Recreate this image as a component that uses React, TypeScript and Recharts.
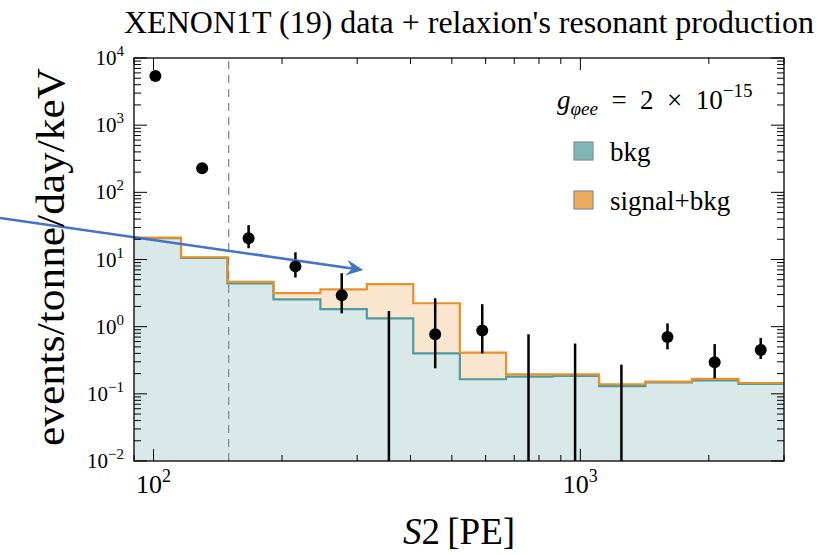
import {
  ComposedChart,
  Area,
  Line,
  Scatter,
  ErrorBar,
  XAxis,
  YAxis,
  ReferenceLine,
} from "recharts";

// histogram bins in S2 [PE] (log-spaced edges)
const BIN_EDGES = [90, 116, 149, 191, 246, 316, 406, 522, 670, 861, 1106, 1421, 1826, 2346, 3000];
const BKG = [20.8, 10.6, 4.4, 2.55, 1.82, 1.33, 0.4, 0.165, 0.18, 0.185, 0.13, 0.148, 0.158, 0.141];
const SIG_BKG = [21.2, 10.8, 4.65, 3.15, 3.6, 4.3, 2.23, 0.41, 0.195, 0.195, 0.139, 0.152, 0.167, 0.145];

// measured data points
const POINT_X = [101, 130, 167, 215, 276, 457, 589, 1600, 2064, 2646];
const POINT_Y = [5400, 229, 20.8, 7.9, 2.94, 0.77, 0.88, 0.7, 0.295, 0.45];
const POINT_LO = [5250, 205, 14.7, 5.4, 1.58, 0.24, 0.4, 0.46, 0.17, 0.33];
const POINT_HI = [5550, 255, 32.5, 12.8, 6.25, 2.65, 2.16, 1.12, 0.55, 0.68];

// bins with no central value, only an upper error bar
const EMPTY_X = [356, 756, 972, 1248];
const EMPTY_HI = [1.71, 0.77, 0.56, 0.272];

const THRESHOLD = 150;
const ARROW_FROM = { x: 43.5, y: 41.5 };
const ARROW_TO = { x: 310, y: 6.98 };

const X_MAJOR = [100, 1000];
const X_MINOR = [90, 200, 300, 400, 500, 600, 700, 800, 900, 2000, 3000];
const Y_MAJOR = [0.01, 0.1, 1, 10, 100, 1000, 10000];
const MANTISSA = [2, 3, 4, 5, 6, 7, 8, 9];
const Y_MINOR = Y_MAJOR.slice(0, -1).flatMap((d) =>
  MANTISSA.map((m) => Number((m * d).toPrecision(2)))
);

const W = 832;
const H = 555;
const PLOT = { left: 134, right: 784, top: 58, bottom: 461 };
const FONT = "Liberation Serif, Times New Roman, serif";

const TEAL = "#7fb6b8";
const TEAL_LINE = "#4f9a9c";
const ORANGE = "#eeac5f";
const ORANGE_LINE = "#e8912b";
const ARROW_BLUE = "#4472c4";

const histRows = BIN_EDGES.map((x, i) => ({
  x,
  bkg: BKG[Math.min(i, BKG.length - 1)],
  sig: SIG_BKG[Math.min(i, SIG_BKG.length - 1)],
}));

const points = POINT_X.map((x, i) => ({
  x,
  y: POINT_Y[i],
  err: [POINT_Y[i] - POINT_LO[i], POINT_HI[i] - POINT_Y[i]],
}));

const emptyBins = EMPTY_X.map((x, i) => ({
  x,
  y: EMPTY_HI[i],
  err: [EMPTY_HI[i] - 0.01, 0],
}));

const exponent = (v: number) => String(Math.round(Math.log10(v))).replace("-", "\u2212");

function XTick(props: any) {
  const { x, y, payload } = props;
  const major = X_MAJOR.includes(payload.value);
  const len = major ? 12 : 6;
  return (
    <g>
      <line x1={x} y1={y} x2={x} y2={y - len} stroke="#000" strokeWidth={1} />
      <line x1={x} y1={PLOT.top} x2={x} y2={PLOT.top + len} stroke="#000" strokeWidth={1} />
      {major && (
        <text x={x} y={y + 32} textAnchor="middle" style={{ fontFamily: FONT }} fontSize={26} fill="#000">
          10
          <tspan dy={-11} fontSize={18}>
            {exponent(payload.value)}
          </tspan>
        </text>
      )}
    </g>
  );
}

function YTick(props: any) {
  const { x, y, payload } = props;
  const major = Y_MAJOR.includes(payload.value);
  const len = major ? 13 : 7;
  return (
    <g>
      <line x1={x} y1={y} x2={x + len} y2={y} stroke="#000" strokeWidth={1} />
      <line x1={PLOT.right} y1={y} x2={PLOT.right - len} y2={y} stroke="#000" strokeWidth={1} />
      {major && (
        <text x={x - 10} y={y + 7} textAnchor="end" style={{ fontFamily: FONT }} fontSize={21} fill="#000">
          10
          <tspan dy={-9} fontSize={15}>
            {exponent(payload.value)}
          </tspan>
        </text>
      )}
    </g>
  );
}

function Arrow(props: any) {
  const { x1, y1, x2, y2 } = props;
  const ang = Math.atan2(y2 - y1, x2 - x1);
  const c = Math.cos(ang);
  const s = Math.sin(ang);
  const L = 17;
  const Wd = 8;
  const bx = x2 - L * c;
  const by = y2 - L * s;
  const nx = x2 - L * 0.65 * c;
  const ny = y2 - L * 0.65 * s;
  const pts = [
    [x2, y2],
    [bx - Wd * s, by + Wd * c],
    [nx, ny],
    [bx + Wd * s, by - Wd * c],
  ]
    .map((p) => p.join(","))
    .join(" ");
  return (
    <g>
      <line x1={x1} y1={y1} x2={nx} y2={ny} stroke={ARROW_BLUE} strokeWidth={2.5} />
      <polygon points={pts} fill={ARROW_BLUE} />
    </g>
  );
}

function Dot(props: any) {
  return <circle cx={props.cx} cy={props.cy} r={6} fill="#000" />;
}

export default function App() {
  return (
    <div style={{ position: "absolute", left: 0, top: 0, width: W, height: H, background: "#fff" }}>
      <ComposedChart
        width={W}
        height={H}
        data={histRows}
        margin={{ top: PLOT.top, right: W - PLOT.right, bottom: 0, left: 0 }}
      >
        <Area
          type="stepAfter"
          dataKey="sig"
          baseValue={0.01}
          fill={ORANGE}
          fillOpacity={0.3}
          stroke="none"
          isAnimationActive={false}
        />
        <Area
          type="stepAfter"
          dataKey="bkg"
          baseValue={0.01}
          fill="#d9e9ea"
          fillOpacity={1}
          stroke="none"
          isAnimationActive={false}
        />
        <Line
          type="stepAfter"
          dataKey="bkg"
          stroke={TEAL_LINE}
          strokeWidth={2.2}
          dot={false}
          isAnimationActive={false}
        />
        <Line
          type="stepAfter"
          dataKey="sig"
          stroke={ORANGE_LINE}
          strokeWidth={2.2}
          dot={false}
          isAnimationActive={false}
        />
        <ReferenceLine x={THRESHOLD} stroke="#808080" strokeWidth={1.2} strokeDasharray="8 6" />
        <Scatter data={emptyBins} dataKey="y" shape={() => <g />} isAnimationActive={false}>
          <ErrorBar dataKey="err" direction="y" width={0} stroke="#000" strokeWidth={2.5} isAnimationActive={false} />
        </Scatter>
        <Scatter data={points} dataKey="y" shape={Dot} isAnimationActive={false}>
          <ErrorBar dataKey="err" direction="y" width={0} stroke="#000" strokeWidth={2.5} isAnimationActive={false} />
        </Scatter>
        <ReferenceLine
          segment={[ARROW_FROM, ARROW_TO]}
          ifOverflow="visible"
          shape={Arrow}
        />
        <XAxis
          dataKey="x"
          type="number"
          scale="log"
          domain={[90, 3000]}
          allowDataOverflow
          ticks={[...X_MAJOR, ...X_MINOR]}
          interval={0}
          tick={(p: any) => <XTick {...p} />}
          tickLine={false}
          tickSize={0}
          tickMargin={0}
          axisLine={false}
          height={H - PLOT.bottom}
        />
        <YAxis
          type="number"
          scale="log"
          domain={[0.01, 10000]}
          allowDataOverflow
          ticks={[...Y_MAJOR, ...Y_MINOR]}
          interval={0}
          tick={(p: any) => <YTick {...p} />}
          tickLine={false}
          tickSize={0}
          tickMargin={0}
          axisLine={false}
          width={PLOT.left}
        />
      </ComposedChart>

      <svg
        width={W}
        height={H}
        style={{ position: "absolute", left: 0, top: 0, pointerEvents: "none", fontFamily: FONT }}
      >
        <rect
          x={PLOT.left}
          y={PLOT.top}
          width={PLOT.right - PLOT.left}
          height={PLOT.bottom - PLOT.top}
          fill="none"
          stroke="#000"
          strokeWidth={1.3}
        />
        <text x={469} y={33} textAnchor="middle" fontSize={31} textLength={690} lengthAdjust="spacingAndGlyphs">
          XENON1T (19) data + relaxion's resonant production
        </text>
        <text x={459} y={544} textAnchor="middle" fontSize={37}>
          <tspan fontStyle="italic">S</tspan>2{"\u2009"}[PE]
        </text>
        <text
          x={64}
          y={257}
          textAnchor="middle"
          fontSize={40}
          textLength={378}
          lengthAdjust="spacingAndGlyphs"
          transform="rotate(-90 64 257)"
        >
          events/tonne/day/keV
        </text>

        <text x={557} y={109} fontSize={27}>
          <tspan fontStyle="italic">g</tspan>
          <tspan fontStyle="italic" fontSize={19} dy={6}>
            φee
          </tspan>
          <tspan dy={-6}>{"\u2002=\u20022\u2002×\u200210"}</tspan>
          <tspan fontSize={19} dy={-12}>
            −15
          </tspan>
        </text>
        <rect x={574} y={142} width={19} height={18} fill={TEAL} stroke="#8c8c8c" strokeWidth={1.2} />
        <text x={610} y={161} fontSize={27}>
          bkg
        </text>
        <rect x={574} y={191} width={19} height={18} fill={ORANGE} stroke="#8c8c8c" strokeWidth={1.2} />
        <text x={610} y={210} fontSize={27}>
          signal+bkg
        </text>
      </svg>
    </div>
  );
}
